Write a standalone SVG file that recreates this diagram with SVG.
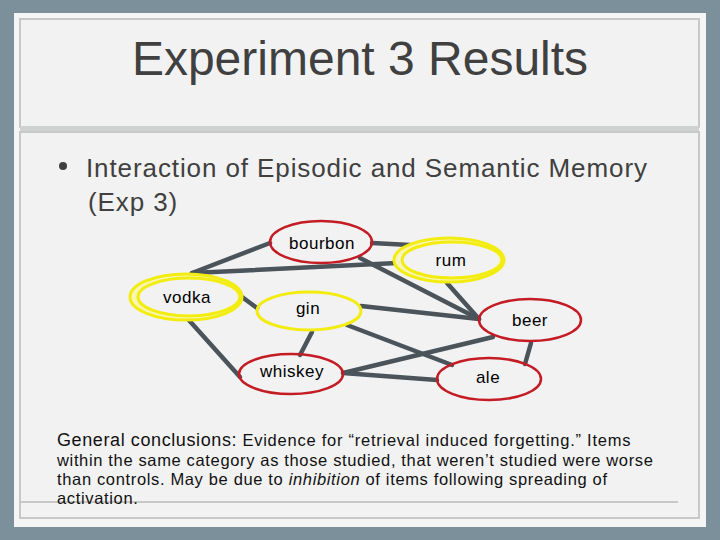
<svg xmlns="http://www.w3.org/2000/svg" width="720" height="540" viewBox="0 0 720 540">
<style>
.edge{stroke:#4a545a;stroke-width:4.5;stroke-linecap:round;fill:none}
.red{fill:none;stroke:#c41c24;stroke-width:2.5}
.yel{fill:none;stroke:#f2ec10;stroke-width:3}
.lbl{font-family:"Liberation Sans",Arial,sans-serif;font-size:17px;letter-spacing:0.5px;fill:#000;text-anchor:middle}
.body{font-family:"Liberation Sans",Arial,sans-serif;fill:#111}
</style>
<rect x="0" y="0" width="720" height="540" fill="#7b909b"/>
<rect x="14" y="13" width="692" height="514" fill="#f5f5f5"/>
<rect x="20" y="19" width="679" height="108" fill="#f2f2f2" stroke="#c8c8c8" stroke-width="2"/>
<rect x="20" y="126" width="679" height="6" fill="#cfd2d2"/>
<rect x="20" y="132" width="679" height="386" fill="#f2f2f2" stroke="#c8c8c8" stroke-width="2"/>
<line x1="20" y1="502" x2="678" y2="502" stroke="#c8c8c8" stroke-width="2"/>
<text x="360" y="75" font-family="'Liberation Sans',Arial,sans-serif" font-size="48" fill="#404040" text-anchor="middle">Experiment 3 Results</text>
<circle cx="63" cy="166" r="4" fill="#404040"/>
<text x="86" y="177" font-family="'Liberation Sans',Arial,sans-serif" font-size="26" letter-spacing="0.9" fill="#404040">Interaction of Episodic and Semantic Memory</text>
<text x="88" y="211" font-family="'Liberation Sans',Arial,sans-serif" font-size="26" letter-spacing="0.9" fill="#404040">(Exp 3)</text>
<g id="connectors">
<line class="edge" x1="192" y1="273" x2="270" y2="243"/>
<line class="edge" x1="192" y1="273" x2="397" y2="263"/>
<line class="edge" x1="372" y1="243" x2="410" y2="245"/>
<line class="edge" x1="360" y1="258" x2="479" y2="319"/>
<line class="edge" x1="447" y1="283" x2="479" y2="319"/>
<line class="edge" x1="361" y1="306" x2="479" y2="319"/>
<line class="edge" x1="347" y1="325" x2="452" y2="365"/>
<line class="edge" x1="242" y1="297" x2="257" y2="308"/>
<line class="edge" x1="187" y1="318" x2="240" y2="377"/>
<line class="edge" x1="312" y1="332" x2="300" y2="355"/>
<line class="edge" x1="343" y1="373" x2="493" y2="337"/>
<line class="edge" x1="343" y1="373" x2="437" y2="380"/>
<line class="edge" x1="531" y1="343" x2="525" y2="364"/>
</g>
<g id="bourbon"><ellipse class="red" cx="321" cy="242" rx="51" ry="21"/><text class="lbl" x="322" y="249">bourbon</text></g>
<g id="rum"><ellipse cx="449" cy="260" rx="53" ry="20" fill="none" stroke="#faf6b0" stroke-width="5"/><ellipse class="yel" cx="449" cy="260" rx="55" ry="22"/><ellipse class="yel" cx="452" cy="260" rx="50" ry="18" stroke-width="2"/><text class="lbl" x="451" y="266">rum</text></g>
<g id="vodka"><ellipse cx="187" cy="297" rx="53" ry="20" fill="none" stroke="#faf6b0" stroke-width="5"/><ellipse class="yel" cx="186" cy="297" rx="56" ry="23"/><ellipse class="yel" cx="189" cy="297" rx="51" ry="19" stroke-width="2"/><text class="lbl" x="187" y="303">vodka</text></g>
<g id="gin"><ellipse class="yel" cx="309" cy="311" rx="52" ry="19" stroke-width="3.5"/><text class="lbl" x="308" y="314">gin</text></g>
<g id="beer"><ellipse class="red" cx="530" cy="320" rx="51" ry="21"/><text class="lbl" x="530" y="326">beer</text></g>
<g id="whiskey"><ellipse class="red" cx="291" cy="374" rx="52" ry="20"/><text class="lbl" x="292" y="377">whiskey</text></g>
<g id="ale"><ellipse class="red" cx="489" cy="379" rx="52" ry="21"/><text class="lbl" x="488" y="383">ale</text></g>
<text class="body" x="57" y="446" font-size="16.5" letter-spacing="0.75"><tspan font-size="18" letter-spacing="0.6">General conclusions:</tspan> Evidence for “retrieval induced forgetting.” Items</text>
<text class="body" x="57" y="466" font-size="16.5" letter-spacing="0.65">within the same category as those studied, that weren’t studied were worse</text>
<text class="body" x="57" y="485" font-size="16.5" letter-spacing="0.65">than controls. May be due to <tspan font-style="italic">inhibition</tspan> of items following spreading of</text>
<text class="body" x="57" y="504" font-size="16.5" letter-spacing="0.65">activation.</text>
</svg>
